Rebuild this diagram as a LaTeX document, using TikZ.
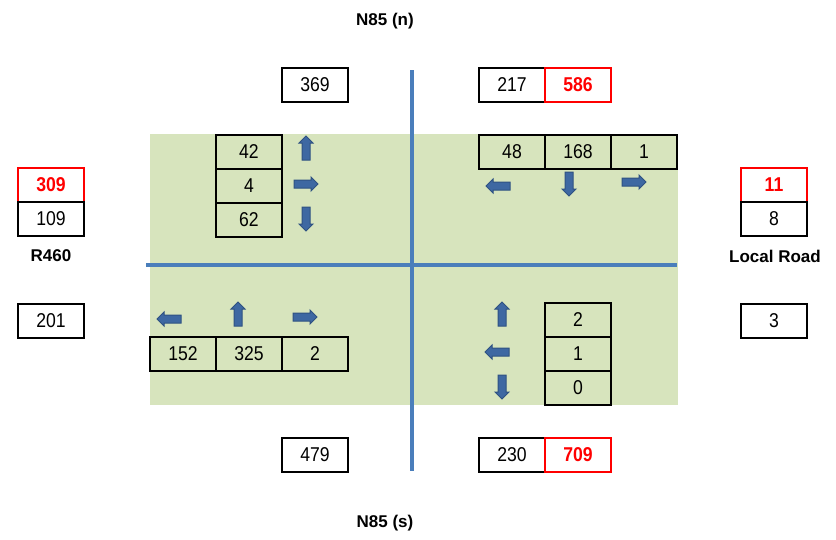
\documentclass[tikz,border=0pt]{standalone}
\usepackage{fontspec}
\setmainfont{Liberation Sans}
\newfontfamily\numfont[FakeStretch=0.88]{Liberation Sans}
\usetikzlibrary{shapes.arrows, positioning}
\definecolor{fieldgreen}{HTML}{D7E4BD}
\definecolor{roadblue}{HTML}{4A7EBB}
\definecolor{arrowfill}{HTML}{3E68A2}
\definecolor{arrowedge}{HTML}{2F5282}
\definecolor{peakred}{HTML}{FF0000}
\tikzstyle{cell} = [rectangle, draw=black, line width=2.4pt, minimum width=66pt, minimum height=34pt, inner sep=0pt, outer sep=0pt, text centered, font=\numfont\fontsize{20}{22}\selectfont]
\tikzstyle{peak} = [cell, draw=peakred, text=peakred, font=\numfont\bfseries\fontsize{20}{22}\selectfont]
\tikzstyle{roadname} = [font=\bfseries\fontsize{17}{19}\selectfont]
\tikzstyle{turn} = [single arrow, fill=arrowfill, draw=arrowedge, line width=1pt, minimum height=24pt, minimum width=14pt, single arrow head extend=3pt, inner xsep=0pt, inner ysep=3.5pt]
\tikzstyle{line} = [line width=4pt, roadblue]
\begin{document}
\begin{tikzpicture}[x=1pt, y=-1pt]
    \useasboundingbox (0,0) rectangle (836,539);
    \fill [fieldgreen] (150,134) rectangle (678,405);

    \node (dividerNorth) at (412,70) {};
    \node (dividerSouth) at (412,471) {};
    \node (dividerWest) at (146,265) {};
    \node (dividerEast) at (677,265) {};
    \draw [line] (dividerNorth.center) -- (dividerSouth.center);
    \draw [line] (dividerWest.center) -- (dividerEast.center);

    % road names
    \node (nameNorth) [roadname] at (385,21) {N85 (n)};
    \node (nameSouth) [roadname] at (385,523) {N85 (s)};
    \node (nameWest) [roadname] at (51,256) {R460};
    \node (nameEast) [roadname] at (775,256) {Local Road};

    % approach totals
    \node (northIn) [cell] at (315,85) {369};
    \node (northOut) [cell] at (512,85) {217};
    \node (northPeak) [peak, right=0pt of northOut] {586};
    \node (southIn) [cell] at (315,455) {479};
    \node (southOut) [cell] at (512,455) {230};
    \node (southPeak) [peak, right=0pt of southOut] {709};
    \node (westPeak) [peak] at (51,185) {309};
    \node (westOut) [cell, below=0pt of westPeak] {109};
    \node (westIn) [cell] at (51,321) {201};
    \node (eastPeak) [peak] at (774,185) {11};
    \node (eastOut) [cell, below=0pt of eastPeak] {8};
    \node (eastIn) [cell] at (774,321) {3};

    % north-west quadrant
    \node (nwLeft) [cell] at (249,152) {42};
    \node (nwThrough) [cell, below=0pt of nwLeft] {4};
    \node (nwRight) [cell, below=0pt of nwThrough] {62};
    \node (nwUp) [turn, rotate=90] at (306,150) {};
    \node (nwEast) [turn] at (304,184) {};
    \node (nwDown) [turn, rotate=-90] at (306,217) {};

    % north-east quadrant
    \node (neRight) [cell] at (512,152) {48};
    \node (neThrough) [cell, right=0pt of neRight] {168};
    \node (neLeft) [cell, right=0pt of neThrough] {1};
    \node (neWest) [turn, rotate=180] at (500,186) {};
    \node (neDown) [turn, rotate=-90] at (569,182) {};
    \node (neEast) [turn] at (632,182) {};

    % south-west quadrant
    \node (swLeft) [turn, rotate=180] at (171,319) {};
    \node (swUp) [turn, rotate=90] at (238,316) {};
    \node (swRight) [turn] at (303,317) {};
    \node (swWest) [cell] at (183,354) {152};
    \node (swThrough) [cell, right=0pt of swWest] {325};
    \node (swEast) [cell, right=0pt of swThrough] {2};

    % south-east quadrant
    \node (seRight) [cell] at (578,320) {2};
    \node (seThrough) [cell, below=0pt of seRight] {1};
    \node (seLeft) [cell, below=0pt of seThrough] {0};
    \node (seUp) [turn, rotate=90] at (502,316) {};
    \node (seWest) [turn, rotate=180] at (499,352) {};
    \node (seDown) [turn, rotate=-90] at (502,385) {};
\end{tikzpicture}
\end{document}
